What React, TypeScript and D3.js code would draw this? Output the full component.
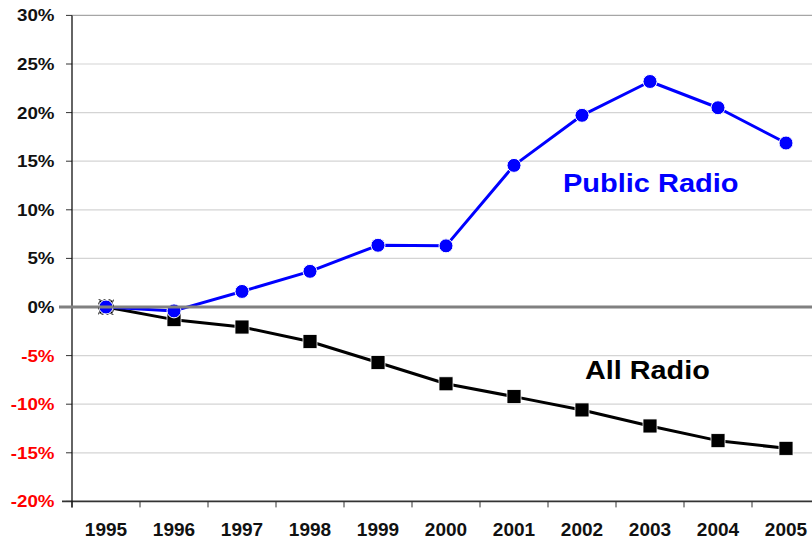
import React from "react";
import * as d3 from "d3";

// Percent change in listening, indexed to 1995
const years = ["1995", "1996", "1997", "1998", "1999", "2000", "2001", "2002", "2003", "2004", "2005"];
const publicRadio = [0, -0.4, 1.6, 3.67, 6.35, 6.29, 14.57, 19.72, 23.2, 20.5, 16.87];
const allRadio = [0, -1.3, -2.06, -3.55, -5.71, -7.9, -9.22, -10.59, -12.24, -13.75, -14.54];
const yTicks = [30, 25, 20, 15, 10, 5, 0, -5, -10, -15, -20];

const W = 812;
const H = 542;
const FONT = "'Liberation Sans', Arial, sans-serif";

export default function App() {
  const x = d3.scaleBand<string>().domain(years).range([72, 820]);
  const y = d3.scaleLinear().domain([-20, 30]).range([501.4, 15.4]);
  const cx = (yr: string) => (x(yr) as number) + x.bandwidth() / 2;

  const line = d3
    .line<number>()
    .x((_, i) => cx(years[i]))
    .y((v) => y(v));

  const sq = 14;

  return (
    <svg
      width={W}
      height={H}
      style={{ position: "absolute", left: 0, top: 0, background: "#fff" }}
      fontFamily={FONT}
    >
      {/* horizontal gridlines */}
      {yTicks
        .filter((t) => t !== 0 && t !== -20)
        .map((t) => (
          <line
            key={"g" + t}
            x1={72}
            x2={W}
            y1={y(t)}
            y2={y(t)}
            stroke={t === 30 ? "#a6a6a6" : "#d4d4d4"}
            strokeWidth={1.2}
          />
        ))}

      {/* y ticks and labels */}
      {yTicks.map((t) => (
        <g key={"yt" + t}>
          <line x1={66} x2={72} y1={y(t)} y2={y(t)} stroke="#333" strokeWidth={1} />
          <text
            transform={`translate(54.5,${y(t) + 6}) scale(1.13,1)`}
            textAnchor="end"
            fontSize={16.6}
            fontWeight="bold"
            fill={t < 0 ? "#ff0000" : "#111"}
          >
            {t + "%"}
          </text>
        </g>
      ))}

      {/* x axis */}
      <line x1={62} x2={W} y1={y(-20)} y2={y(-20)} stroke="#333" strokeWidth={1.6} />
      {years.map((yr, i) => (
        <line
          key={"xt" + yr}
          x1={72 + i * x.bandwidth()}
          x2={72 + i * x.bandwidth()}
          y1={y(-20)}
          y2={y(-20) + 6}
          stroke="#333"
          strokeWidth={1}
        />
      ))}
      {years.map((yr) => (
        <text
          key={"xl" + yr}
          transform={`translate(${cx(yr)},536) scale(1.08,1)`}
          textAnchor="middle"
          fontSize={17.6}
          fontWeight="bold"
          fill="#111"
        >
          {yr}
        </text>
      ))}

      {/* y axis */}
      <line x1={72} x2={72} y1={y(30)} y2={y(-20) + 6} stroke="#111" strokeWidth={1.3} />

      {/* All Radio series */}
      <path d={line(allRadio) || ""} fill="none" stroke="#000" strokeWidth={3} strokeLinejoin="round" />
      {allRadio.map((v, i) => (
        <rect
          key={"a" + i}
          x={cx(years[i]) - sq / 2}
          y={y(v) - sq / 2}
          width={sq}
          height={sq}
          fill="#000"
          stroke="#fff"
          strokeWidth={0.8}
        />
      ))}

      {/* Public Radio series */}
      <path d={line(publicRadio) || ""} fill="none" stroke="#0000ff" strokeWidth={3} strokeLinejoin="round" />
      {publicRadio.map((v, i) => (
        <circle key={"p" + i} cx={cx(years[i])} cy={y(v)} r={7} fill="#0000ff" stroke="#fff" strokeWidth={1} />
      ))}

      {/* zero baseline */}
      <line x1={59} x2={W} y1={y(0)} y2={y(0)} stroke="#808080" strokeWidth={3} />

      {/* selected point outline */}
      <rect
        x={cx(years[0]) - 7.5}
        y={y(publicRadio[0]) - 7.5}
        width={15}
        height={15}
        fill="none"
        stroke="#333"
        strokeWidth={0.8}
        strokeDasharray="2,3"
      />

      {/* series labels */}
      <text
        transform={`translate(563,191.5) scale(1.16,1)`}
        fontSize={25}
        fontWeight="bold"
        fill="#0000ff"
      >
        Public Radio
      </text>
      <text
        transform={`translate(585,379) scale(1.13,1)`}
        fontSize={25.5}
        fontWeight="bold"
        fill="#000"
      >
        All Radio
      </text>
    </svg>
  );
}
